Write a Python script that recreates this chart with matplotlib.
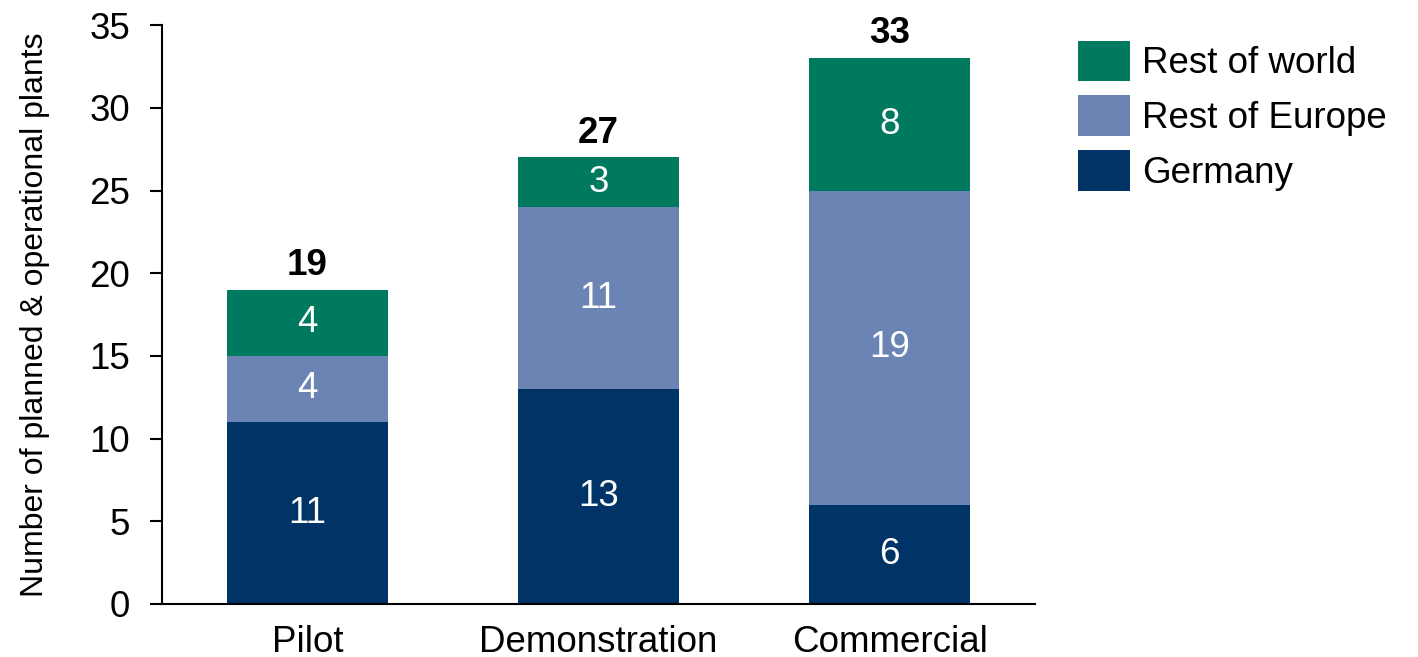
import numpy as np
import matplotlib
matplotlib.use('Agg')
import matplotlib.pyplot as plt

plt.rcParams['font.family'] = ['Liberation Sans', 'DejaVu Sans']

# data
stages = ['Pilot', 'Demonstration', 'Commercial']
germany = [11, 13, 6]
rest_europe = [4, 11, 19]
rest_world = [4, 3, 8]
yticks = [0, 5, 10, 15, 20, 25, 30, 35]

c_germany = '#003366'
c_europe = '#6c84b4'
c_world = '#007a5e'
fs = 26.5

fig = plt.figure(figsize=(14.18, 6.57), dpi=100)
ax = fig.add_axes([0.1142, 0.0807, 0.616, 0.881])

x = np.arange(len(stages))
w = 0.552
g = np.array(germany)
e = np.array(rest_europe)
r = np.array(rest_world)

b1 = ax.bar(x, g, w, color=c_germany, label='Germany')
b2 = ax.bar(x, e, w, bottom=g, color=c_europe, label='Rest of Europe')
b3 = ax.bar(x, r, w, bottom=g + e, color=c_world, label='Rest of world')

# segment labels
for bars, vals, bottoms in [(b1, g, 0 * g), (b2, e, g), (b3, r, g + e)]:
    for xi, v, b in zip(x, vals, bottoms):
        ax.text(xi, b + v / 2, str(v), ha='center', va='center',
                color='white', fontsize=fs)

# totals
totals = g + e + r
for xi, t in zip(x, totals):
    ax.annotate(str(t), (xi, t), xytext=(0, 5), textcoords='offset points',
                ha='center', va='bottom', fontsize=fs, fontweight='bold')

ax.set_xlim(-0.5, 2.5)
ax.set_ylim(0, 35)
ax.set_yticks(yticks)
ax.set_xticks(x)
ax.set_xticklabels(stages)
ax.tick_params(axis='y', labelsize=fs, length=9, width=1.5, pad=14)
ax.tick_params(axis='x', labelsize=fs, length=0, pad=15)
for s in ['top', 'right']:
    ax.spines[s].set_visible(False)
ax.spines['left'].set_linewidth(1.5)
ax.spines['bottom'].set_linewidth(1.5)
ax.set_ylabel('Number of planned & operational plants', fontsize=23)
ax.yaxis.set_label_coords(-0.128, 0.5)

handles = [b3, b2, b1]
fig.legend(handles, [h.get_label() for h in handles], loc='upper left',
           bbox_to_anchor=(0.760, 0.938), frameon=False, fontsize=fs,
           handlelength=1.43, handleheight=1.32, labelspacing=0.38,
           handletextpad=0.32, borderpad=0, borderaxespad=0)

fig.savefig('out.png', dpi=100)
